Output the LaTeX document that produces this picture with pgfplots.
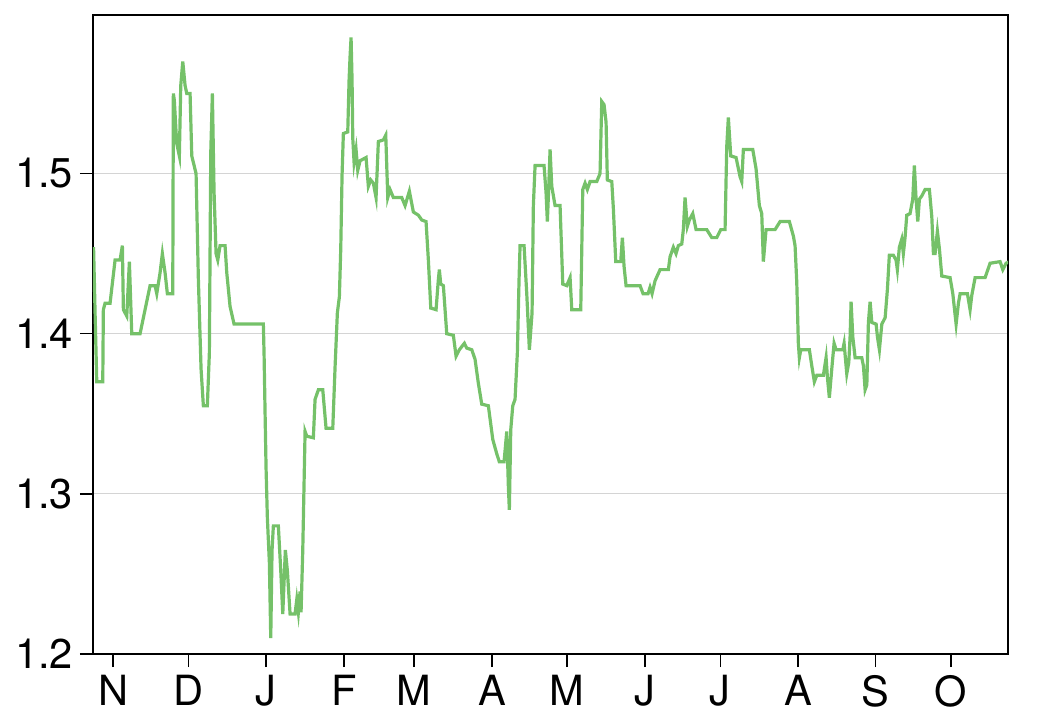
\documentclass[border=0pt]{standalone}
\usepackage{fontspec}
\setmainfont{TeX Gyre Heros}
\usepackage{pgfplots}
\pgfplotsset{compat=1.18}
\definecolor{linegreen}{RGB}{117,193,105}
\begin{document}
\begin{tikzpicture}
\begin{axis}[
 at={(0,0)}, anchor=south west,
 scale only axis, width=457.5pt, height=319.5pt,
 xmin=-8, xmax=356.7, ymin=1.2, ymax=1.599,
 xtick={0,30,61,92,120,151,181,212,242,273,304,334},
 xticklabels={N,D,J,F,M,A,M,J,J,A,S,O},
 ytick={1.2,1.3,1.4,1.5},
 yticklabel style={/pgf/number format/.cd, fixed, precision=1, fixed zerofill},
 /pgf/number format/assume math mode=true,
 tick label style={font=\fontsize{20.8}{24}\selectfont},
 xticklabel style={yshift=-0.5pt},
 tick align=outside, major tick length=6.5pt,
 xtick pos=bottom, ytick pos=left,
 ymajorgrids, grid style={draw=black!17, line width=0.5pt},
 axis line style={line width=0.7pt},
 tick style={black, line width=0.7pt},
]
\addplot[linegreen, line width=1.6pt] coordinates {
(-8.0,1.442)(-7.77,1.454)(-7.17,1.413)(-6.5,1.370)(-4.11,1.370)(-3.87,1.415)(-3.19,1.419)(-1.2,1.419)
(0.8,1.446)(2.79,1.446)(3.71,1.455)(4.11,1.415)(5.46,1.411)(6.5,1.445)(7.45,1.400)(10.76,1.400)
(12.75,1.415)(14.75,1.430)(16.74,1.430)(17.42,1.425)(18.73,1.438)(19.65,1.450)(20.73,1.438)(21.64,1.425)
(23.79,1.425)(24.03,1.550)(24.4,1.546)(25.36,1.519)(26.42,1.511)(26.98,1.555)(27.78,1.570)(28.7,1.555)
(29.37,1.550)(30.69,1.550)(31.37,1.511)(33.08,1.500)(34.0,1.434)(35.07,1.378)(35.99,1.355)(37.58,1.355)
(38.38,1.388)(38.94,1.513)(39.58,1.550)(40.26,1.488)(41.05,1.450)(41.73,1.446)(42.65,1.455)(44.64,1.455)
(45.32,1.438)(46.63,1.417)(48.23,1.406)(59.9,1.406)
(60.19,1.387)(60.58,1.351)(60.98,1.316)(61.5,1.285)(62.3,1.257)(62.85,1.210)(63.37,1.265)(63.89,1.280)
(65.88,1.280)(66.84,1.252)(67.64,1.225)(68.67,1.265)(69.47,1.252)(70.55,1.225)(72.54,1.225)(73.22,1.234)
(73.85,1.226)(74.53,1.239)(74.93,1.226)(75.61,1.265)(76.53,1.339)(77.2,1.336)(79.83,1.335)(80.51,1.359)
(81.83,1.365)(83.58,1.365)(84.89,1.341)(87.57,1.341)(88.48,1.379)(89.4,1.413)(90.2,1.423)(90.75,1.453)
(91.27,1.499)(91.79,1.525)(93.54,1.526)(94.06,1.558)(94.46,1.573)(94.86,1.585)(95.26,1.558)(95.54,1.522)
(96.06,1.507)(96.85,1.515)(97.53,1.502)(98.45,1.508)(100.84,1.510)(101.75,1.492)(102.71,1.496)(103.75,1.494)
(104.82,1.485)(105.74,1.520)(107.73,1.521)(108.69,1.524)(109.49,1.485)(110.4,1.490)(111.72,1.485)(115.07,1.485)
(116.38,1.480)(118.1,1.489)(119.69,1.476)(121.69,1.474)(123.04,1.471)(124.75,1.470)(125.67,1.446)(126.63,1.416)
(128.74,1.415)(129.66,1.434)(130.05,1.440)(130.61,1.431)(131.65,1.430)(133.0,1.400)(135.63,1.399)(136.71,1.386)
(138.02,1.390)(140.02,1.394)(140.97,1.391)(142.97,1.390)(144.28,1.384)(145.6,1.369)(146.95,1.356)(149.58,1.355)
(151.34,1.334)(152.93,1.325)(153.97,1.320)(155.84,1.320)(156.92,1.339)(157.55,1.305)(157.95,1.290)(158.51,1.340)
(159.31,1.355)(160.22,1.359)(161.14,1.388)(161.82,1.434)(162.22,1.455)(163.81,1.455)(164.89,1.425)(165.93,1.390)
(167.0,1.413)(167.52,1.480)(168.2,1.505)(171.78,1.505)(172.58,1.488)(173.1,1.470)(173.66,1.492)(174.18,1.515)
(174.86,1.492)(176.17,1.480)(178.16,1.480)(179.24,1.431)(180.83,1.430)(182.15,1.435)(182.83,1.415)(186.41,1.415)
(187.21,1.490)(188.13,1.494)(189.04,1.490)(190.12,1.495)(192.79,1.495)(194.1,1.500)(194.78,1.545)(195.7,1.543)
(196.5,1.532)(197.01,1.496)(198.77,1.495)(199.41,1.478)(200.36,1.445)(202.35,1.445)(203.0,1.460)(203.67,1.442)
(204.47,1.430)(210.05,1.430)(211.24,1.425)(213.23,1.425)(214.03,1.429)(214.83,1.425)(216.02,1.433)(218.02,1.440)
(221.33,1.440)(222.0,1.448)(223.32,1.454)(224.39,1.450)(225.31,1.455)(226.67,1.456)(227.3,1.465)(227.98,1.485)
(228.9,1.467)(229.7,1.471)(231.05,1.475)(232.37,1.465)(236.63,1.465)(238.63,1.460)(240.62,1.460)(242.21,1.465)
(243.93,1.465)(244.6,1.517)(245.24,1.535)(246.2,1.511)(248.31,1.510)(249.91,1.498)(250.58,1.495)(251.22,1.515)
(254.97,1.515)(256.28,1.503)(257.6,1.480)(258.55,1.475)(259.19,1.445)(260.27,1.465)(263.86,1.465)(265.85,1.470)
(269.56,1.470)(271.15,1.461)(271.83,1.455)(272.51,1.432)(273.14,1.394)(273.54,1.385)(274.1,1.390)(277.53,1.390)
(278.49,1.380)(279.52,1.370)(280.48,1.374)(283.11,1.374)(284.19,1.385)(284.71,1.373)(285.5,1.360)(286.46,1.378)
(287.38,1.394)(288.18,1.390)(290.85,1.390)(291.37,1.394)(292.44,1.375)(293.24,1.382)(293.76,1.398)(294.16,1.420)
(294.84,1.398)(295.76,1.385)(298.43,1.385)(299.07,1.380)(299.75,1.365)(300.43,1.368)(301.06,1.407)(301.74,1.420)
(302.42,1.407)(304.14,1.406)(304.66,1.398)(305.45,1.390)(306.41,1.406)(307.73,1.410)(308.65,1.428)(309.4,1.449)
(311.0,1.449)(312.08,1.446)(312.6,1.440)(313.4,1.454)(314.35,1.459)(314.99,1.450)(315.67,1.460)(316.35,1.474)
(317.66,1.475)(318.74,1.484)(319.38,1.505)(320.06,1.484)(320.74,1.470)(321.38,1.484)(322.34,1.486)(323.65,1.490)
(325.37,1.490)(326.33,1.473)(326.97,1.450)(327.64,1.450)(328.56,1.464)(329.36,1.453)(330.31,1.436)(333.62,1.435)
(334.7,1.425)(336.02,1.406)(336.94,1.419)(337.61,1.425)(340.52,1.425)(341.59,1.415)(342.27,1.424)(343.59,1.435)
(347.57,1.435)(349.56,1.444)(353.55,1.445)(354.63,1.440)(355.94,1.444)(357.26,1.445)
};
\end{axis}
\pgfresetboundingbox
\path (-46.5pt,-27pt) rectangle (473.5pt,327pt);
\end{tikzpicture}
\end{document}
